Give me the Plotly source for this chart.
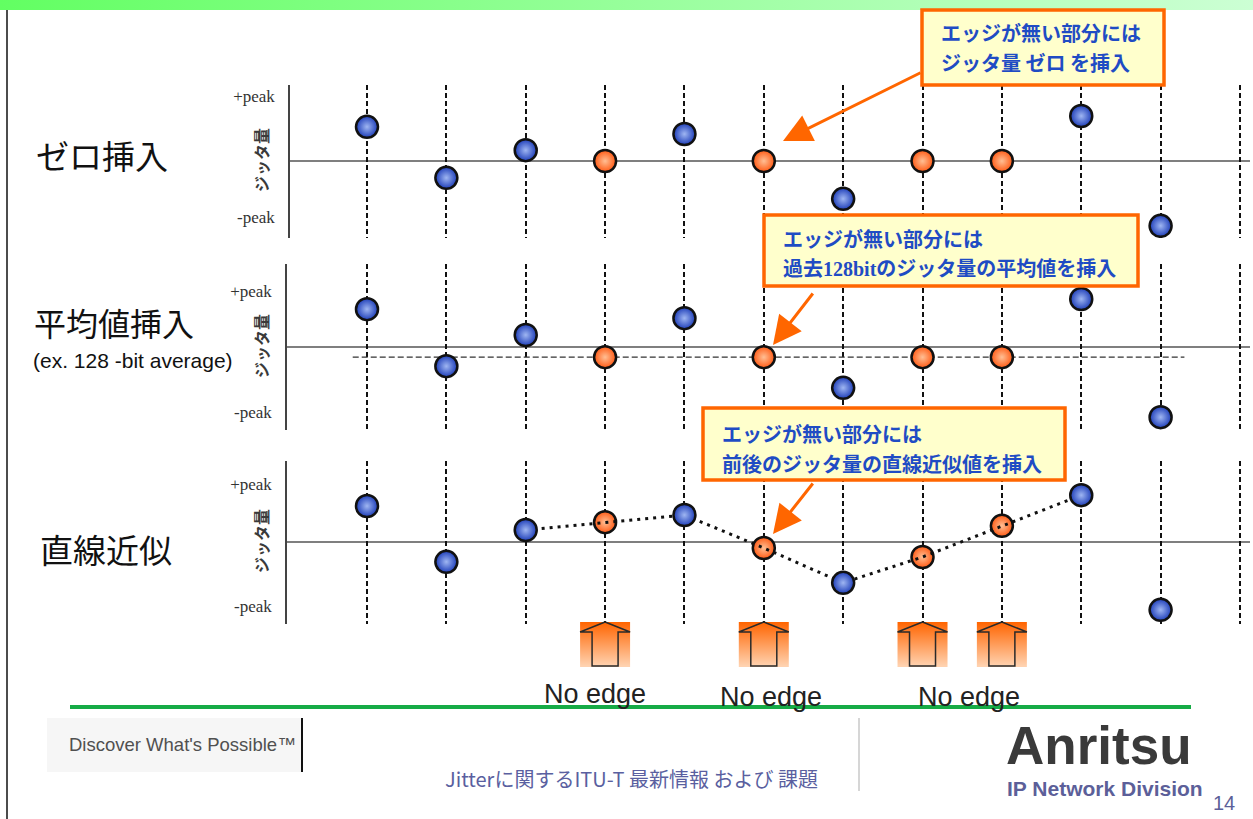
import plotly.graph_objects as go

# ---------------------------------------------------------------- data
# bit slots (one vertical guide per recovered clock edge)
columns = list(range(12))
# slots where the data has no transition -> a jitter value has to be inserted
inserted = [3, 5, 7, 8]

# jitter per slot, in units of the peak amplitude (None = slot not plotted)
zero_insert = [0.57, -0.28, 0.18, 0.0, 0.45, 0.0, -0.63, 0.0, 0.0, 0.75, -1.08, None]
avg_level = -0.17  # running 128-bit average
avg_insert = [0.63, -0.32, 0.20, avg_level, 0.48, avg_level, -0.68, avg_level, avg_level, 0.80, -1.17, None]
lin_insert = [0.60, -0.33, 0.20, 0.33, 0.45, -0.10, -0.68, -0.25, 0.27, 0.78, -1.13, None]
# slots joined by the linear-interpolation path
lin_path = [2, 3, 4, 5, 6, 7, 8, 9]

panel_titles = ["ゼロ挿入", "平均値挿入", "直線近似"]
peak_labels = ["+peak", "-peak"]
peak_ticks = [[1.08, -0.93], [0.93, -1.08], [0.97, -1.07]]
callouts = [
    ["エッジが無い部分には", "ジッタ量 ゼロ を挿入"],
    ["エッジが無い部分には",
     "過去<span style='font-family:Liberation Serif'>128bit</span>のジッタ量の平均値を挿入"],
    ["エッジが無い部分には", "前後のジッタ量の直線近似値を挿入"],
]
no_edge_text = "No edge"

# ---------------------------------------------------------------- page geometry
W, H = 1253, 819
COL0_PX, COL_STEP = 367, 79.36
UNIT_PX = 60.0           # pixels per peak unit
# (top, bottom, zero-line, axis x) in page pixels for the three panels
panels = [(85, 238, 161, 289), (264, 430, 347, 286), (461, 624, 542, 286)]

BLUE, BLUE_C = "#1d3db8", "#9fb6f2"
ORANGE, ORANGE_C = "#ff5a14", "#ffbf94"
CJK = "Noto Sans CJK JP"


def px(x):
    return x / W


def py(y):
    return 1 - y / H


def note(x, y, text, size, color="#111", family=CJK, xanchor="center", **kw):
    font = dict(family=family, size=size, color=color)
    if "weight" in kw:
        font["weight"] = kw.pop("weight")
    return dict(xref="paper", yref="paper", x=px(x), y=py(y), text=text, showarrow=False,
                xanchor=xanchor, yanchor="middle", font=font, **kw)


x_range = [-COL0_PX / COL_STEP, (W - COL0_PX) / COL_STEP]

fig = go.Figure()

series = [zero_insert, avg_insert, lin_insert]
yaxes = ["y", "y2", "y3"]

for k, vals in enumerate(series):
    ya = yaxes[k]
    blue_x = [c for c in columns if vals[c] is not None and c not in inserted]
    org_x = [c for c in inserted]
    if k == 1:
        # running average reference
        fig.add_trace(go.Scatter(
            x=[-0.18, 10.3], y=[avg_level, avg_level], yaxis=ya, mode="lines",
            line=dict(color="#333", width=1.2, dash="6px,3px"), hoverinfo="skip"))
    fig.add_trace(go.Scatter(
        x=org_x, y=[vals[c] for c in org_x], yaxis=ya, mode="markers",
        marker=dict(size=22, color=ORANGE, line=dict(color="#111", width=2.5),
                    gradient=dict(type="radial", color=ORANGE_C)),
        hoverinfo="skip"))
    if k == 2:
        fig.add_trace(go.Scatter(
            x=lin_path, y=[vals[c] for c in lin_path], yaxis=ya, mode="lines",
            line=dict(color="#111", width=3, dash="3px,5px"), hoverinfo="skip"))
    fig.add_trace(go.Scatter(
        x=blue_x, y=[vals[c] for c in blue_x], yaxis=ya, mode="markers",
        marker=dict(size=22, color=BLUE, line=dict(color="#111", width=2.5),
                    gradient=dict(type="radial", color=BLUE_C)),
        hoverinfo="skip"))

# ---------------------------------------------------------------- decorations
# green title band
fig.add_trace(go.Scatter(
    x=[0, W, W, 0, 0], y=[0, 0, 10, 10, 0], xaxis="x2", yaxis="y4",
    mode="lines", fill="toself", line=dict(width=0),
    fillgradient=dict(type="horizontal", colorscale=[[0, "#62ff62"], [1, "#ccffd4"]]),
    hoverinfo="skip"))

# "no edge" up-arrows under the inserted slots
HALF_BOX = 25 / COL_STEP
HALF_SHAFT = 13 / COL_STEP
A_TOP, A_WING, A_BOT = 622, 632, 666
for c in inserted:
    fig.add_trace(go.Scatter(
        x=[c - HALF_BOX, c + HALF_BOX, c + HALF_BOX, c - HALF_BOX, c - HALF_BOX],
        y=[A_TOP, A_TOP, A_BOT + 1, A_BOT + 1, A_TOP], xaxis="x3", yaxis="y4",
        mode="lines", fill="toself", line=dict(width=0),
        fillgradient=dict(type="vertical", start=A_TOP, stop=A_BOT,
                          colorscale=[[0, "#ff6400"], [1, "#ffd2b0"]]),
        hoverinfo="skip"))
    fig.add_trace(go.Scatter(
        x=[c, c + HALF_BOX, c + HALF_SHAFT, c + HALF_SHAFT, c - HALF_SHAFT,
           c - HALF_SHAFT, c - HALF_BOX, c],
        y=[A_TOP, A_WING, A_WING, A_BOT, A_BOT, A_WING, A_WING, A_TOP],
        xaxis="x3", yaxis="y4", mode="lines",
        line=dict(color="#2a2a2a", width=1.5), hoverinfo="skip"))

shapes = []
annotations = []

for k, (top, bot, zero, axx) in enumerate(panels):
    ya = yaxes[k]
    # zero reference line
    shapes.append(dict(type="line", xref="paper", yref=ya, x0=px(axx), x1=px(1250),
                       y0=0, y1=0, line=dict(color="#555", width=1.5), layer="below"))
    # vertical label
    annotations.append(note(261, zero - 1, "ジッタ量", 16, color="#3a3a3a", textangle=-90, weight="bold"))

# callout boxes
boxes = [(922, 10, 1164, 85), (764, 215, 1138, 286), (703, 408, 1065, 480)]
line_y = [(33, 63), (238, 268), (433, 463)]
for (x0, y0, x1, y1), lines, ys in zip(boxes, callouts, line_y):
    shapes.append(dict(type="rect", xref="paper", yref="paper",
                       x0=px(x0), x1=px(x1), y0=py(y1), y1=py(y0),
                       fillcolor="#ffffcc", line=dict(color="#ff6600", width=3.5)))
    for t, yy in zip(lines, ys):
        annotations.append(note(x0 + 17, yy, t, 20, color="#1f4cc4", xanchor="left", weight="bold"))

# callout arrows (head position, tail position)
for hx, hy, tx, ty in [(783, 141, 922, 72), (773, 345, 814, 292), (773, 534, 814, 482)]:
    annotations.append(dict(xref="paper", yref="paper", x=px(hx), y=py(hy), ax=tx - hx, ay=ty - hy,
                            text="", showarrow=True, arrowhead=2, arrowsize=1.9, arrowwidth=3,
                            arrowcolor="#ff6600"))

# panel titles
annotations += [
    note(34, 155, panel_titles[0], 33, xanchor="left"),
    note(32, 322, panel_titles[1], 32, xanchor="left"),
    note(31, 360, "(ex. 128 -bit average)", 21, family="Liberation Sans", xanchor="left"),
    note(38, 549, panel_titles[2], 33, xanchor="left"),
]

# "No edge" captions
for cx, cy in [(595, 694), (771, 697), (969, 697)]:
    annotations.append(note(cx, cy, no_edge_text, 27, color="#222", family="Liberation Sans"))

# footer
shapes += [
    dict(type="line", xref="paper", yref="paper", x0=px(70), x1=px(1191), y0=py(707), y1=py(707),
         line=dict(color="#16ab46", width=4)),
    dict(type="line", xref="paper", yref="paper", x0=px(7), x1=px(7), y0=py(10), y1=0,
         line=dict(color="#111", width=1.5)),
    dict(type="rect", xref="paper", yref="paper", x0=px(47), x1=px(301), y0=py(772), y1=py(718),
         fillcolor="#f6f6f6", line=dict(width=0)),
    dict(type="line", xref="paper", yref="paper", x0=px(302), x1=px(302), y0=py(772), y1=py(718),
         line=dict(color="#111", width=2)),
    dict(type="line", xref="paper", yref="paper", x0=px(859), x1=px(859), y0=py(791), y1=py(718),
         line=dict(color="#c8c8c8", width=1.5)),
]
annotations += [
    note(67, 744, "Discover What's Possible™", 18.5, color="#505050", family="Liberation Sans",
         xanchor="left"),
    note(631, 778, "Jitterに関するITU-T 最新情報 および 課題", 20, color="#5a5fa0"),
    note(1004, 745, "Anritsu", 53, color="#3a3a3a", family="Liberation Sans", xanchor="left",
         weight="bold"),
    note(1005, 788, "IP Network Division", 21, color="#5c5f99", family="Liberation Sans",
         xanchor="left", weight="bold"),
    note(1224, 803, "14", 20, color="#5c5f99", family="Liberation Sans"),
]

# ---------------------------------------------------------------- axes
layout = dict(
    width=W, height=H, autosize=False, margin=dict(l=0, r=0, t=0, b=0),
    paper_bgcolor="white", plot_bgcolor="rgba(0,0,0,0)", showlegend=False,
    shapes=shapes, annotations=annotations,
    xaxis=dict(domain=[0, 1], range=x_range, tickvals=columns, showticklabels=False,
               showgrid=True, gridcolor="#111", gridwidth=2, griddash="5px,3px",
               zeroline=False, showline=False, ticks="", fixedrange=True),
    xaxis2=dict(domain=[0, 1], range=[0, W], visible=False, anchor="y4", overlaying="x"),
    xaxis3=dict(domain=[0, 1], range=x_range, visible=False, anchor="y4", overlaying="x"),
    yaxis4=dict(domain=[0, 1], range=[H, 0], visible=False, anchor="x2"),
)
for k, (top, bot, zero, axx) in enumerate(panels):
    key = "yaxis" if k == 0 else f"yaxis{k + 1}"
    layout[key] = dict(
        domain=[py(bot), py(top)],
        range=[-(bot - zero) / UNIT_PX, (zero - top) / UNIT_PX],
        anchor="free", position=px(axx),
        showline=True, linecolor="#444", linewidth=1.5,
        showgrid=False, zeroline=False, ticks="", ticklabelstandoff=10,
        tickvals=peak_ticks[k], ticktext=peak_labels,
        tickfont=dict(family="Liberation Serif", size=17, color="#333"),
    )

fig.update_layout(**layout)
fig.write_html("out.html")
